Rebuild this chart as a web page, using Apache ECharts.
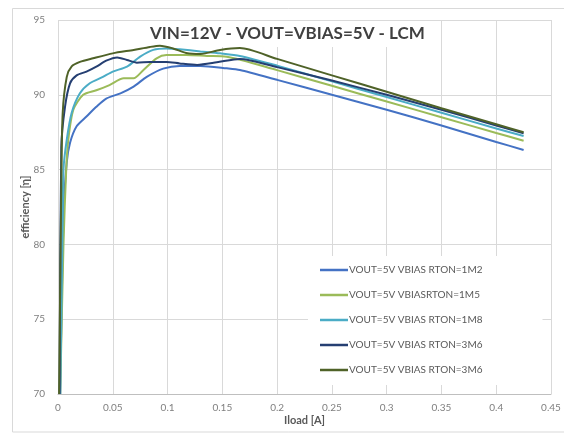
<!DOCTYPE html>
<html>
<head>
<meta charset="utf-8">
<title>efficiency</title>
<script src="https://cdn.jsdelivr.net/npm/echarts@6/dist/echarts.min.js"></script>
<style>
    html, body{
        margin: 0;
        padding: 0;
        background: #fff;
    }
    #chart{
        width: 564px;
        height: 436px;
    }
</style>
</head>
<body>
<div id="chart"></div>
<script>
    // tick labels
    var xTicks = ['0', '0.05', '0.1', '0.15', '0.2', '0.25', '0.3', '0.35', '0.4', '0.45'];
    var yTicks = ['70', '75', '80', '85', '90', '95'];

    // series names (the last two carry the same label in the source)
    var names = [
        'VOUT=5V VBIAS RTON=1M2',
        'VOUT=5V VBIASRTON=1M5',
        'VOUT=5V VBIAS RTON=1M8',
        'VOUT=5V VBIAS RTON=3M6',
        'VOUT=5V VBIAS RTON=3M6\u200b'
    ];
    var colors = ['#4472c4', '#9bbb59', '#4bacc6', '#253f72', '#4f6228'];

    // [Iload A, efficiency]
    var rton1m2 = [
        [0.002, 70], [0.005, 82], [0.008, 85.5], [0.011, 86.8], [0.017, 87.9], [0.026, 88.55],
        [0.035, 89.2], [0.044, 89.75], [0.057, 90.1], [0.069, 90.55], [0.081, 91.2], [0.096, 91.75],
        [0.111, 91.93], [0.130, 91.93], [0.154, 91.77], [0.166, 91.66], [0.2, 91.0], [0.25, 90.0],
        [0.3, 89.0], [0.35, 87.95], [0.4, 86.85], [0.425, 86.31]
    ];
    var rton1m5 = [
        [0.002, 70], [0.005, 80], [0.0075, 85], [0.0094, 87], [0.014, 89], [0.023, 90.0],
        [0.035, 90.3], [0.047, 90.65], [0.060, 91.1], [0.069, 91.1], [0.078, 91.66], [0.090, 92.44],
        [0.099, 92.66], [0.117, 92.66], [0.136, 92.6], [0.154, 92.55], [0.2, 91.65], [0.25, 90.6],
        [0.3, 89.55], [0.35, 88.5], [0.4, 87.45], [0.425, 86.93]
    ];
    var rton1m8 = [
        [0.002, 70], [0.004, 80], [0.005, 85], [0.008, 87], [0.0125, 88.8], [0.020, 90.1],
        [0.029, 90.77], [0.041, 91.2], [0.050, 91.55], [0.063, 91.88], [0.075, 92.55], [0.087, 93.0],
        [0.099, 93.1], [0.111, 93.04], [0.130, 92.9], [0.148, 92.77], [0.166, 92.6], [0.2, 91.95],
        [0.25, 90.9], [0.3, 89.85], [0.35, 88.8], [0.4, 87.75], [0.425, 87.25]
    ];
    var rton3m6a = [
        [0.0015, 70], [0.003, 86.5], [0.0064, 89.2], [0.011, 90.77], [0.017, 91.3], [0.026, 91.55],
        [0.035, 91.88], [0.044, 92.28], [0.054, 92.5], [0.063, 92.33], [0.072, 92.15], [0.084, 92.2],
        [0.099, 92.2], [0.111, 92.1], [0.127, 92.0], [0.145, 92.17], [0.166, 92.4], [0.2, 91.85],
        [0.25, 90.95], [0.3, 90.0], [0.35, 89.0], [0.4, 87.95], [0.425, 87.42]
    ];
    var rton3m6b = [
        [0.001, 70], [0.003, 84], [0.0043, 88.8], [0.008, 91.2], [0.0125, 91.9], [0.020, 92.2],
        [0.032, 92.44], [0.050, 92.77], [0.069, 93.0], [0.084, 93.2], [0.093, 93.28], [0.105, 93.1],
        [0.117, 92.8], [0.130, 92.73], [0.148, 93.0], [0.166, 93.12], [0.2, 92.4], [0.25, 91.3],
        [0.3, 90.2], [0.35, 89.1], [0.4, 88.03], [0.425, 87.5]
    ];
    var seriesData = [rton1m2, rton1m5, rton1m8, rton3m6a, rton3m6b];

    var myChart = echarts.init(document.getElementById('chart'), null, {renderer: 'canvas'});

    var series = seriesData.map(function (d, i) {
        return {
            name: names[i],
            type: 'line',
            data: d,
            symbol: 'none',
            smooth: 0.25,
            z: 2 + i,
            lineStyle: {width: 2, color: colors[i]},
            itemStyle: {color: colors[i]}
        };
    });

    var option = {
        animation: false,
        textStyle: {fontFamily: 'Lato'},
        graphic: [{
            type: 'rect',
            z: -10,
            shape: {x: 12.5, y: 8.5, width: 560, height: 423.5},
            style: {fill: 'none', stroke: '#d9d9d9', lineWidth: 1}
        }],
        title: {
            text: 'VIN=12V - VOUT=VBIAS=5V - LCM',
            left: 144,
            top: 21,
            padding: [4, 6, 5, 6],
            backgroundColor: '#fff',
            textStyle: {fontFamily: 'Lato', fontWeight: 'bold', fontSize: 17, color: '#404040'}
        },
        legend: {
            orient: 'vertical',
            left: 308,
            top: 256,
            padding: [7, 60, 8, 12],
            backgroundColor: '#fff',
            icon: 'rect',
            itemWidth: 28,
            itemHeight: 2.5,
            itemGap: 11,
            data: names,
            formatter: function (n) { return n.replace('\u200b', ''); },
            textStyle: {fontFamily: 'Lato', fontSize: 10, lineHeight: 14, color: '#595959', padding: [0, 0, 0, -4]}
        },
        grid: {left: 58, right: 13, top: 20, bottom: 42},
        xAxis: {
            type: 'value',
            min: 0,
            max: 0.45,
            interval: 0.05,
            name: 'Iload [A]',
            nameLocation: 'middle',
            nameGap: 21,
            nameMoveOverlap: false,
            nameTextStyle: {fontFamily: 'Lato', fontWeight: 'bold', fontSize: 11, color: '#595959'},
            axisLine: {show: true, lineStyle: {color: '#bfbfbf'}},
            axisTick: {show: false},
            splitLine: {show: true, lineStyle: {color: '#d9d9d9'}},
            axisLabel: {
                margin: 9,
                fontSize: 10,
                color: '#7f7f7f',
                formatter: function (v) { return xTicks[Math.round(v / 0.05)]; }
            }
        },
        yAxis: {
            type: 'value',
            min: 70,
            max: 95,
            interval: 5,
            name: 'efficiency [\u03b7]',
            nameLocation: 'middle',
            nameGap: 27,
            nameMoveOverlap: false,
            nameTextStyle: {fontFamily: 'Lato', fontWeight: 'bold', fontSize: 11, color: '#595959'},
            axisLine: {show: false},
            axisTick: {show: false},
            splitLine: {show: true, lineStyle: {color: '#d9d9d9'}},
            axisLabel: {
                margin: 13,
                fontSize: 10,
                color: '#7f7f7f',
                formatter: function (v) { return yTicks[Math.round((v - 70) / 5)]; }
            }
        },
        series: series
    };
    myChart.setOption(option);
</script>
</body>
</html>
